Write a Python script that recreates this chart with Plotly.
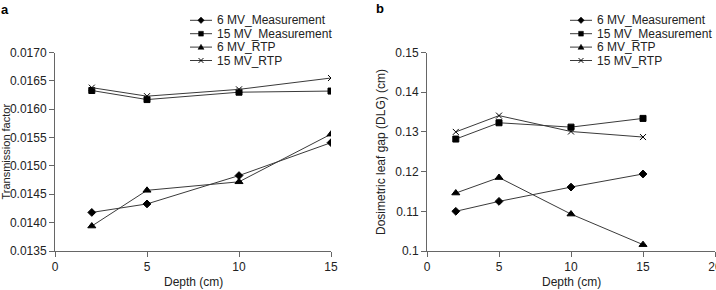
import plotly.graph_objects as go

depth = [2, 5, 10, 15]
series_names = ["6 MV_Measurement", "15 MV_Measurement", "6 MV_RTP", "15 MV_RTP"]
symbols = ["diamond", "square", "triangle-up", "x-thin"]

tf_6mv_meas = [0.01418, 0.01433, 0.01483, 0.01541]
tf_15mv_meas = [0.01633, 0.01617, 0.01630, 0.01632]
tf_6mv_rtp = [0.01394, 0.01457, 0.01472, 0.01556]
tf_15mv_rtp = [0.01638, 0.01623, 0.01635, 0.01655]

dlg_6mv_meas = [0.1100, 0.1125, 0.1161, 0.1194]
dlg_15mv_meas = [0.1282, 0.1323, 0.1312, 0.1334]
dlg_6mv_rtp = [0.1146, 0.1185, 0.1093, 0.1016]
dlg_15mv_rtp = [0.1300, 0.1341, 0.1301, 0.1287]

tf_ticks = [0.0135, 0.0140, 0.0145, 0.0150, 0.0155, 0.0160, 0.0165, 0.0170]
dlg_ticks = [0.10, 0.11, 0.12, 0.13, 0.14, 0.15]
dlg_tick_text = ["0.1", "0.11", "0.12", "0.13", "0.14", "0.15"]

FONT = "Liberation Sans, Arial, sans-serif"
LINE = "#3a3a3a"
TXT = "#222222"
AX = "#666666"
W, H = 716, 290

marker_sizes = {"diamond": 6, "square": 6, "triangle-up": 7, "x-thin": 6}


def px(x):
    return x / W


def py(y):
    return 1 - y / H


fig = go.Figure()

left_data = [tf_6mv_meas, tf_15mv_meas, tf_6mv_rtp, tf_15mv_rtp]
right_data = [dlg_6mv_meas, dlg_15mv_meas, dlg_6mv_rtp, dlg_15mv_rtp]

for xa, ya, data in [("x", "y", left_data), ("x2", "y2", right_data)]:
    for name, sym, ys in zip(series_names, symbols, data):
        fig.add_trace(go.Scatter(
            x=depth, y=ys, name=name, mode="lines+markers", showlegend=False,
            line=dict(color=LINE, width=1),
            marker=dict(symbol=sym, size=marker_sizes[sym], color="black",
                        line=dict(color="black", width=1)),
            xaxis=xa, yaxis=ya,
        ))

axis_common = dict(
    showgrid=False, zeroline=False, showline=True, linecolor=AX, linewidth=1,
    ticks="outside", ticklen=5, tickcolor=AX, automargin=False,
    tickfont=dict(family=FONT, size=12, color=TXT),
)

y_bottom = (H - 251) / H
y_top = (H - 52.5) / H

annotations = []
shapes = []


def text_ann(text, x, y, xanchor="center", yanchor="middle", size=12, angle=0, bold=False):
    annotations.append(dict(
        text=f"<b>{text}</b>" if bold else text, x=px(x), y=py(y), xref="paper", yref="paper",
        xanchor=xanchor, yanchor=yanchor, showarrow=False, textangle=angle, borderpad=0,
        font=dict(family=FONT, size=size, color="black" if bold else TXT)))


# panel labels
text_ann("a", 4.5, 9.5, bold=True, size=13)
text_ann("b", 380, 8.5, bold=True, size=13)
# axis titles
text_ann("Depth (cm)", 193, 282)
text_ann("Depth (cm)", 571, 282)
text_ann("Transmission factor", 5.5, 152, angle=-90, size=11)
text_ann("Dosimetric leaf gap (DLG) (cm)", 381, 152, angle=-90)


# manual legends (compact, as in the reference)
def legend_glyph(sym, cx, cy):
    if sym == "diamond":
        r = 3.2
        path = f"M{px(cx - r)},{py(cy)} L{px(cx)},{py(cy - r)} L{px(cx + r)},{py(cy)} L{px(cx)},{py(cy + r)} Z"
        shapes.append(dict(type="path", path=path, xref="paper", yref="paper",
                           fillcolor="black", line=dict(color="black", width=0.5)))
    elif sym == "square":
        r = 2.4
        shapes.append(dict(type="rect", x0=px(cx - r), x1=px(cx + r), y0=py(cy + r), y1=py(cy - r),
                           xref="paper", yref="paper", fillcolor="black",
                           line=dict(color="black", width=0.5)))
    elif sym == "triangle-up":
        r = 3
        path = f"M{px(cx - r)},{py(cy + 2.2)} L{px(cx)},{py(cy - 2.8)} L{px(cx + r)},{py(cy + 2.2)} Z"
        shapes.append(dict(type="path", path=path, xref="paper", yref="paper",
                           fillcolor="black", line=dict(color="black", width=0.5)))
    else:
        r = 2.4
        for dy in (r, -r):
            shapes.append(dict(type="line", x0=px(cx - r), x1=px(cx + r), y0=py(cy - dy), y1=py(cy + dy),
                               xref="paper", yref="paper", line=dict(color="black", width=1)))


legend_rows = [20.3, 33.7, 47.1, 60.5]
for (lx0, lx1, tx) in [(190, 212, 216), (570, 592, 596)]:
    for name, sym, ry in zip(series_names, symbols, legend_rows):
        shapes.append(dict(type="line", x0=px(lx0), x1=px(lx1), y0=py(ry), y1=py(ry),
                           xref="paper", yref="paper", line=dict(color=LINE, width=1)))
        legend_glyph(sym, (lx0 + lx1) / 2, ry)
        text_ann(name, tx, ry, xanchor="left")

fig.update_layout(
    width=W, height=H,
    margin=dict(l=0, r=0, t=0, b=0),
    paper_bgcolor="white", plot_bgcolor="white",
    font=dict(family=FONT, size=12, color=TXT),
    showlegend=False,
    xaxis=dict(domain=[55 / W, 331 / W], range=[0, 15], tickvals=[0, 5, 10, 15],
               anchor="y", **axis_common),
    yaxis=dict(domain=[y_bottom, y_top], range=[0.0135, 0.0170], tickvals=tf_ticks,
               tickformat=".4f", anchor="x", **axis_common),
    xaxis2=dict(domain=[427 / W, 715 / W], range=[0, 20], tickvals=[0, 5, 10, 15, 20],
                anchor="y2", ticklabeloverflow="allow", **axis_common),
    yaxis2=dict(domain=[y_bottom, y_top], range=[0.10, 0.15], tickvals=dlg_ticks,
                ticktext=dlg_tick_text, anchor="x2", **axis_common),
    annotations=annotations,
    shapes=shapes,
)

fig.write_html("out.html")
